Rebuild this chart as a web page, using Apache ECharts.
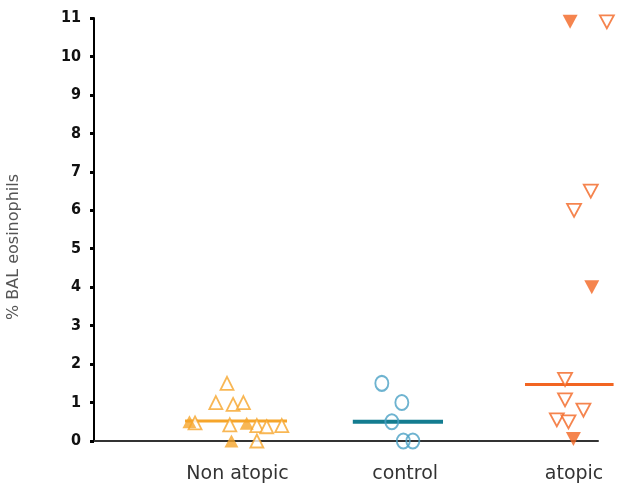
<!DOCTYPE html>
<html><head><meta charset="utf-8">
<script src="https://cdn.jsdelivr.net/npm/echarts@6/dist/echarts.min.js"></script>
<style>html,body{margin:0;padding:0;background:#fff}#c{width:617px;height:486px}</style>
</head><body><div id="c"></div>
<script>
const categories = ['Non atopic', 'control', 'atopic'];
const categoryPositions = [1.027, 2.049, 3.079];
const yTicks = [0,1,2,3,4,5,6,7,8,9,10,11];
const yAxisTitle = '% BAL eosinophils';

// [x position, value]
const nonAtopicOpen = [[0.963,1.5],[0.895,1.0],[1.0,0.95],[1.063,1.0],[0.768,0.47],[0.98,0.42],[1.145,0.4],[1.205,0.37],[1.297,0.4],[1.145,0.0]];
const nonAtopicFilled = [[0.734,0.5],[1.083,0.46],[0.99,0.0]];
const controlOpen = [[1.907,1.5],[2.029,1.0],[1.968,0.5],[2.038,0.0],[2.096,0.0]];
const atopicOpen = [[3.279,10.9],[3.181,6.5],[3.079,6.0],[3.024,1.6],[3.024,1.07],[3.136,0.8],[2.974,0.55],[3.045,0.5]];
const atopicFilled = [[3.055,10.9],[3.187,4.0],[3.075,0.05]];
const medians = [0.52, 0.5, 1.47];
const medianSpans = [[0.707,1.329],[1.73,2.28],[2.78,3.32]];

const cOrange = '#F6A52A', cRed = '#F26522', cBlue = '#4AA0C4', cTeal = '#137C90';
const medianColors = [cOrange, cTeal, cRed];
const medianWidths = [3, 4, 3];

const medianData = medians.map((m, i) => [medianSpans[i][0], medianSpans[i][1], m, i]);

const series = [];
series.push({type:'custom', data:medianData, clip:false, z:1, silent:true,
  encode:{x:[0,1], y:2},
  renderItem:(params, api) => {
    const i = api.value(3);
    const p1 = api.coord([api.value(0), api.value(2)]);
    const p2 = api.coord([api.value(1), api.value(2)]);
    return {type:'line', shape:{x1:p1[0], y1:p1[1], x2:p2[0], y2:p2[1]},
      style:{stroke:medianColors[i], lineWidth:medianWidths[i]}};
  }});
series.push({type:'scatter', data:nonAtopicOpen, symbol:'triangle', symbolSize:[13,13], clip:false,
  itemStyle:{color:'#fff', borderColor:cOrange, borderWidth:1.8}, z:3});
series.push({type:'scatter', data:nonAtopicFilled, symbol:'triangle', symbolSize:[14,13], clip:false,
  itemStyle:{color:cOrange}, z:4});
series.push({type:'scatter', data:controlOpen, symbol:'circle', symbolSize:[13,15], clip:false,
  itemStyle:{color:'rgba(255,255,255,0)', borderColor:cBlue, borderWidth:2}, z:3});
series.push({type:'scatter', data:atopicOpen, symbol:'triangle', symbolRotate:180, symbolSize:[14,13], clip:false,
  itemStyle:{color:'#fff', borderColor:cRed, borderWidth:1.8}, z:3});
series.push({type:'scatter', data:atopicFilled, symbol:'triangle', symbolRotate:180, symbolSize:[15,14], clip:false,
  itemStyle:{color:cRed}, z:4});

const chart = echarts.init(document.getElementById('c'), null, {renderer:'canvas'});
chart.setOption({
  animation:false,
  grid:{left:94, right:19, top:18, bottom:45, containLabel:false},
  graphic:[{type:'text', x:14, y:247, rotation:Math.PI/2,
    style:{text:yAxisTitle, textAlign:'center', textVerticalAlign:'middle', fill:'#555', fontSize:16, fontFamily:'DejaVu Sans'}}],
  xAxis:{type:'value', min:0.152, max:3.225,
    axisLine:{show:true, lineStyle:{color:'#333', width:2}},
    axisTick:{show:false}, splitLine:{show:false},
    axisLabel:{customValues:categoryPositions, formatter:(v)=>{const i=categoryPositions.indexOf(v);return i>=0?categories[i]:'';},
      color:'#333', fontSize:19, fontFamily:'DejaVu Sans', margin:24}},
  yAxis:{type:'value', min:0, max:11, interval:1,
    axisLine:{show:true, lineStyle:{color:'#000', width:2}},
    axisTick:{show:true, length:4, lineStyle:{color:'#000', width:3}},
    splitLine:{show:false},
    axisLabel:{customValues:yTicks, color:'#111', fontWeight:'bold', fontSize:16, fontFamily:'DejaVu Sans Condensed', margin:13}},
  series:series
});
</script></body></html>
